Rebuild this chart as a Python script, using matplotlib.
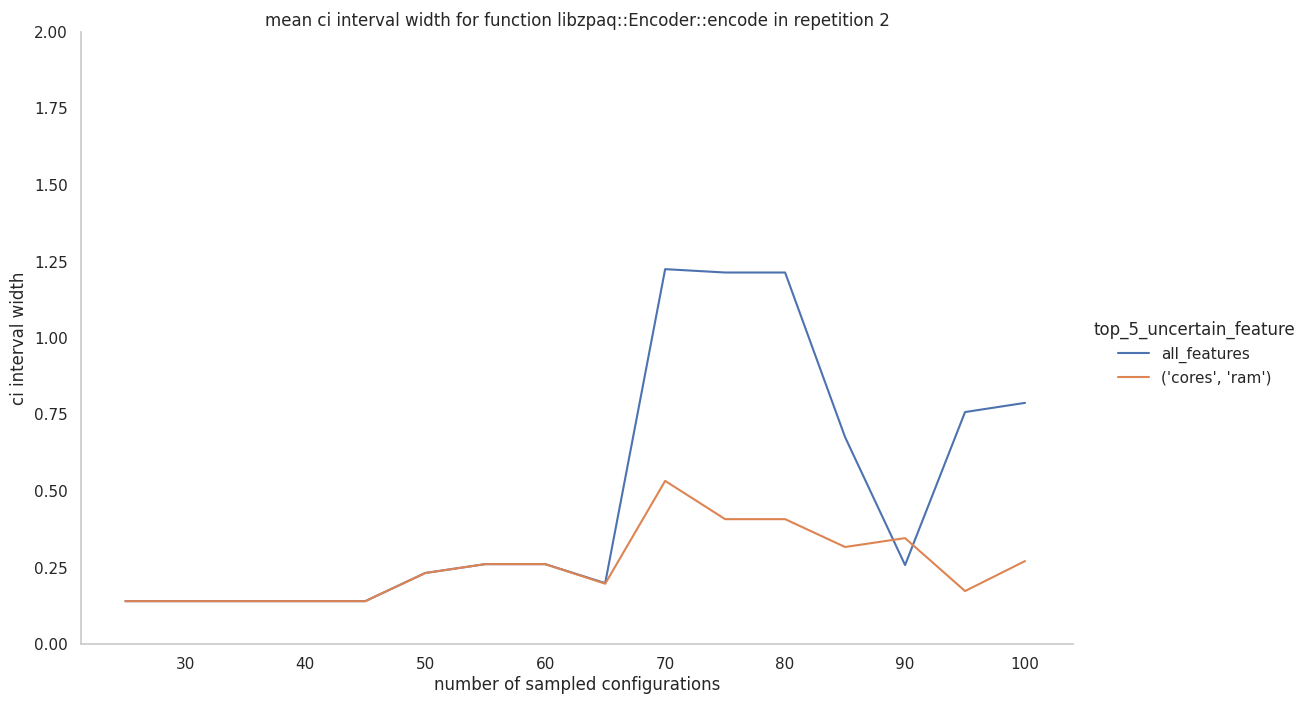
import matplotlib
matplotlib.use("Agg")
import matplotlib.pyplot as plt
import seaborn as sns

x = [25, 30, 35, 40, 45, 50, 55, 60, 65, 70, 75, 80, 85, 90, 95, 100]
all_features = [0.14, 0.14, 0.14, 0.14, 0.14, 0.232, 0.261, 0.261, 0.199, 1.225, 1.214, 1.214, 0.676, 0.258, 0.758, 0.788]
cores_ram = [0.14, 0.14, 0.14, 0.14, 0.14, 0.232, 0.261, 0.261, 0.197, 0.533, 0.408, 0.408, 0.317, 0.346, 0.173, 0.271]

sns.set_theme(style="white")
fig = plt.figure(figsize=(13.02, 7.06), dpi=100)
ax = fig.add_axes([81/1302, 1-644/706, (1073-81)/1302, (644-32)/706])
pal = sns.color_palette("deep")
ax.plot(x, all_features, color=pal[0], lw=1.5, label="all_features")
ax.plot(x, cores_ram, color=pal[1], lw=1.5, label="('cores', 'ram')")
ax.set_ylim(0, 2)
ax.set_xlim(21.3, 104)
ax.set_xticks([30, 40, 50, 60, 70, 80, 90, 100])
ax.set_yticks([0, 0.25, 0.5, 0.75, 1.0, 1.25, 1.5, 1.75, 2.0])
ax.set_yticklabels([f"{v:.2f}" for v in ax.get_yticks()])
for s in ["top", "right"]:
    ax.spines[s].set_visible(False)
for s in ["left", "bottom"]:
    ax.spines[s].set_color("#cccccc")
ax.set_xlabel("number of sampled configurations", fontsize=12, labelpad=3)
ax.set_ylabel("ci interval width", fontsize=12)
ax.set_title("mean ci interval width for function libzpaq::Encoder::encode in repetition 2", fontsize=12, pad=4)
ax.tick_params(labelsize=11)
leg = fig.legend(loc="center left", bbox_to_anchor=(1080/1302, 0.5), frameon=False,
                 title="top_5_uncertain_feature", fontsize=11, title_fontsize=12)
fig.savefig("out.png", dpi=100)
